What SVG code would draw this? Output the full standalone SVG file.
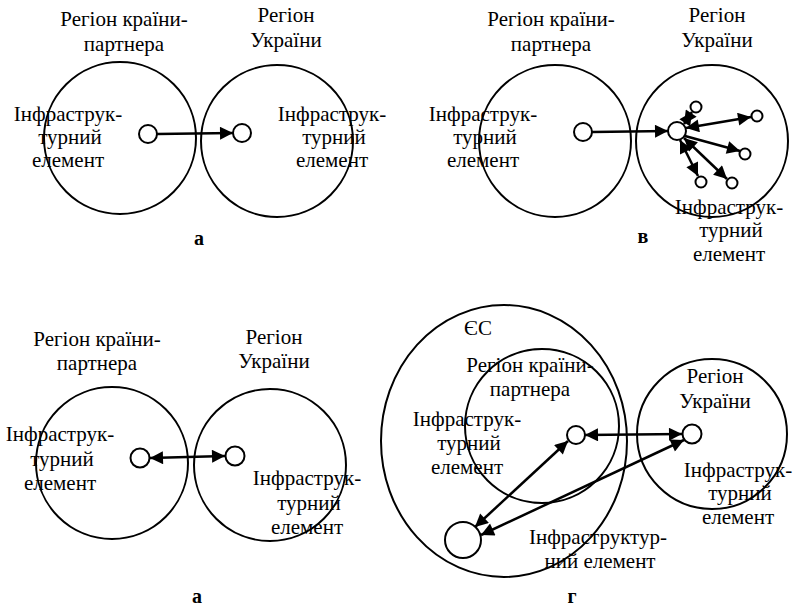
<svg xmlns="http://www.w3.org/2000/svg" width="795" height="606" viewBox="0 0 795 606">
<style>
.c{fill:none;stroke:#000;stroke-width:2}
.s{fill:#fff;stroke:#000;stroke-width:2}
.t{font-family:"Liberation Serif","Times New Roman",serif;font-size:21px;fill:#000;text-anchor:middle}
.b{font-family:"Liberation Serif","Times New Roman",serif;font-size:20px;font-weight:bold;fill:#000;text-anchor:middle}
.a{stroke:#000;stroke-width:2.5;fill:none}
.e{marker-end:url(#ah)}
.d{marker-start:url(#ah);marker-end:url(#ah)}
</style>
<defs>
<marker id="ah" viewBox="0 0 10 10" refX="10" refY="5" markerWidth="15" markerHeight="13" markerUnits="userSpaceOnUse" orient="auto-start-reverse">
<path d="M0,0 L10,5 L0,10 z" fill="#000"/>
</marker>
</defs>
<rect width="795" height="606" fill="#fff"/>

<!-- Panel a (top-left) -->
<g id="a1-partner">
<circle class="c" cx="120" cy="138" r="76"/>
<text class="t" x="124" y="26">Регіон країни-</text>
<text class="t" x="124" y="51">партнера</text>
<text class="t" x="68" y="121">Інфраструк-</text>
<text class="t" x="70" y="144">турний</text>
<text class="t" x="68" y="167">елемент</text>
<circle class="s" cx="148" cy="134" r="9"/>
</g>
<g id="a1-ukraine">
<circle class="c" cx="277" cy="141" r="76"/>
<text class="t" x="286" y="22">Регіон</text>
<text class="t" x="286" y="47">України</text>
<text class="t" x="332" y="121">Інфраструк-</text>
<text class="t" x="334" y="144">турний</text>
<text class="t" x="332" y="167">елемент</text>
<circle class="s" cx="242" cy="133" r="9"/>
</g>
<text class="b" x="199" y="245">а</text>

<!-- Panel в (top-right) -->
<g id="v-partner">
<circle class="c" cx="555" cy="141" r="76"/>
<text class="t" x="551" y="26">Регіон країни-</text>
<text class="t" x="551" y="51">партнера</text>
<text class="t" x="483" y="121">Інфраструк-</text>
<text class="t" x="485" y="144">турний</text>
<text class="t" x="483" y="167">елемент</text>
<circle class="s" cx="583" cy="132" r="9"/>
</g>
<g id="v-ukraine">
<circle class="c" cx="712" cy="141" r="76"/>
<text class="t" x="717" y="22">Регіон</text>
<text class="t" x="717" y="47">України</text>
<circle class="s" cx="677" cy="131" r="9"/>
<circle class="s" cx="696" cy="107" r="5.5"/>
<circle class="s" cx="757" cy="116" r="5.5"/>
<circle class="s" cx="745" cy="154" r="5.5"/>
<circle class="s" cx="701" cy="182" r="5.5"/>
<circle class="s" cx="732" cy="183" r="5.5"/>
<text class="t" x="729" y="214">Інфраструк-</text>
<text class="t" x="731" y="237">турний</text>
<text class="t" x="729" y="261">елемент</text>
</g>
<text class="b" x="643" y="243">в</text>

<!-- Panel а (bottom-left) -->
<g id="a2-partner">
<circle class="c" cx="112" cy="463" r="76"/>
<text class="t" x="97" y="346">Регіон країни-</text>
<text class="t" x="97" y="370">партнера</text>
<text class="t" x="60" y="441">Інфраструк-</text>
<text class="t" x="62" y="466">турний</text>
<text class="t" x="60" y="490">елемент</text>
<circle class="s" cx="140" cy="458" r="9.5"/>
</g>
<g id="a2-ukraine">
<circle class="c" cx="270" cy="465" r="76"/>
<text class="t" x="274" y="344">Регіон</text>
<text class="t" x="274" y="368">України</text>
<text class="t" x="307" y="485">Інфраструк-</text>
<text class="t" x="309" y="510">турний</text>
<text class="t" x="307" y="534">елемент</text>
<circle class="s" cx="235" cy="456" r="9.5"/>
</g>
<text class="b" x="197" y="603">а</text>

<!-- Panel г (bottom-right) -->
<g id="g-eu">
<ellipse class="c" cx="504" cy="441" rx="123" ry="136"/>
<text class="t" x="478" y="335">ЄС</text>
<text class="t" x="598" y="544">Інфраструктур-</text>
<text class="t" x="600" y="568">ний елемент</text>
<circle class="s" cx="463" cy="540" r="18"/>
</g>
<g id="g-partner">
<circle class="c" cx="542" cy="426" r="77"/>
<text class="t" x="530" y="372">Регіон країни-</text>
<text class="t" x="530" y="396">партнера</text>
<text class="t" x="467" y="426">Інфраструк-</text>
<text class="t" x="469" y="450">турний</text>
<text class="t" x="467" y="474">елемент</text>
<circle class="s" cx="576" cy="435" r="9"/>
</g>
<g id="g-ukraine">
<circle class="c" cx="712" cy="434" r="75"/>
<text class="t" x="715" y="383">Регіон</text>
<text class="t" x="715" y="408">України</text>
<text class="t" x="738" y="477">Інфраструк-</text>
<text class="t" x="740" y="500">турний</text>
<text class="t" x="738" y="524">елемент</text>
<circle class="s" cx="692" cy="434" r="9.5"/>
</g>
<text class="b" x="572" y="603">г</text>

<g id="connectors">
<line class="a e" x1="157" y1="134" x2="233" y2="133"/>
<line class="a e" x1="592" y1="132" x2="668" y2="131"/>
<line class="a d" x1="684" y1="124" x2="692" y2="112"/>
<line class="a d" x1="686" y1="128" x2="751" y2="117"/>
<line class="a e" x1="685" y1="136" x2="740" y2="151"/>
<line class="a d" x1="680" y1="140" x2="698" y2="176"/>
<line class="a d" x1="684" y1="138" x2="727" y2="179"/>
<line class="a d" x1="150" y1="458" x2="225" y2="456"/>
<line class="a d" x1="585" y1="435" x2="682" y2="434"/>
<line class="a d" x1="568" y1="441" x2="475" y2="527"/>
<line class="a d" x1="684" y1="440" x2="481" y2="535"/>
</g>
</svg>
